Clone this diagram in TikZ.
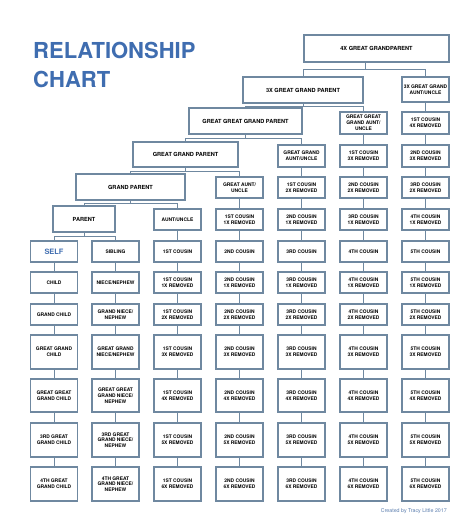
\documentclass[tikz,border=0pt]{standalone}
\usepackage{fontspec}
\setmainfont{TeX Gyre Heros}
\definecolor{boxline}{HTML}{6F88A0}
\definecolor{titleblue}{HTML}{3F6DB0}
\definecolor{creditblue}{HTML}{5A7DAE}
\begin{document}
\begin{tikzpicture}[x=1pt,y=-1pt,
  box/.style={draw=boxline, line width=1.2pt, fill=white, align=center, inner sep=0.5pt,
    minimum width=47pt, font=\fontsize{4.9}{5.8}\selectfont\bfseries, text=black},
  big/.style={font=\fontsize{5.6}{6.4}\selectfont\bfseries},
  hs/.style={minimum height=21pt},
  hm/.style={minimum height=22pt},
  ht/.style={minimum height=34pt},
  anc/.style={big, minimum height=26pt},
  conn/.style={draw=boxline, line width=0.9pt},
  titletext/.style={anchor=base west, text=titleblue, inner sep=0pt,
    font=\fontsize{22}{26}\selectfont\bfseries}
]
\useasboundingbox (0,0) rectangle (474,521);
\fill[white] (0,0) rectangle (474,521);

% title
\node[titletext] (t1) at (33,59) {RELATIONSHIP};
\node[titletext] (t2) at (33,88) {CHART};

% ancestors
\node[box, big, minimum width=145pt, minimum height=27pt] (g4) at (376.5,48.5) {4X GREAT GRANDPARENT};
\node[box, anc, minimum width=120pt] (g3) at (303,90) {3X GREAT GRAND PARENT};
\node[box, anc, minimum width=113pt] (gg) at (245.5,121) {GREAT GREAT GRAND PARENT};
\node[box, big, minimum width=105pt, minimum height=25pt] (ggp) at (185.5,154.5) {GREAT GRAND PARENT};
\node[box, anc, minimum width=109pt] (gp) at (130.5,187) {GRAND PARENT};
\node[box, anc, minimum width=62pt] (par) at (84,219) {PARENT};

% upper side boxes
\node[box, minimum height=25pt] (n1-7) at (425.5,89.5) {3X GREAT GRAND\\AUNT/UNCLE};
\node[box, hm] (n2-6) at (363.5,123) {GREAT GREAT\\GRAND AUNT/\\UNCLE};
\node[box, hm] (n2-7) at (425.5,123) {1ST COUSIN\\4X REMOVED};
\node[box, hm] (n3-5) at (301.5,156) {GREAT GRAND\\AUNT/UNCLE};
\node[box, hm] (n3-6) at (363.5,156) {1ST COUSIN\\3X REMOVED};
\node[box, hm] (n3-7) at (425.5,156) {2ND COUSIN\\3X REMOVED};
\node[box, hs] (n4-4) at (239.5,187.5) {GREAT AUNT/\\UNCLE};
\node[box, hs] (n4-5) at (301.5,187.5) {1ST COUSIN\\2X REMOVED};
\node[box, hs] (n4-6) at (363.5,187.5) {2ND COUSIN\\2X REMOVED};
\node[box, hs] (n4-7) at (425.5,187.5) {3RD COUSIN\\2X REMOVED};
\node[box, hs] (n5-3) at (177.5,219.5) {AUNT/UNCLE};
\node[box, hs] (n5-4) at (239.5,219.5) {1ST COUSIN\\1X REMOVED};
\node[box, hs] (n5-5) at (301.5,219.5) {2ND COUSIN\\1X REMOVED};
\node[box, hs] (n5-6) at (363.5,219.5) {3RD COUSIN\\1X REMOVED};
\node[box, hs] (n5-7) at (425.5,219.5) {4TH COUSIN\\1X REMOVED};

% self row
\node[box, hs, text=titleblue, font=\fontsize{7.4}{8}\selectfont\bfseries] (n6-1) at (54,251.5) {SELF};
\node[box, hs] (n6-2) at (115.5,251.5) {SIBLING};
\node[box, hs] (n6-3) at (177.5,251.5) {1ST COUSIN};
\node[box, hs] (n6-4) at (239.5,251.5) {2ND COUSIN};
\node[box, hs] (n6-5) at (301.5,251.5) {3RD COUSIN};
\node[box, hs] (n6-6) at (363.5,251.5) {4TH COUSIN};
\node[box, hs] (n6-7) at (425.5,251.5) {5TH COUSIN};

% descendants
\node[box, hs] (n7-1) at (54,282.5) {CHILD};
\node[box, hs] (n7-2) at (115.5,282.5) {NIECE/NEPHEW};
\node[box, hs] (n8-1) at (54,314.5) {GRAND CHILD};
\node[box, hs] (n8-2) at (115.5,314.5) {GRAND NIECE/\\NEPHEW};
\node[box, ht] (n9-1) at (54,352) {GREAT GRAND\\CHILD};
\node[box, ht] (n9-2) at (115.5,352) {GREAT GRAND\\NIECE/NEPHEW};
\node[box, minimum height=33pt] (n10-1) at (54,395.5) {GREAT GREAT\\GRAND CHILD};
\node[box, minimum height=33pt] (n10-2) at (115.5,395.5) {GREAT GREAT\\GRAND NIECE/\\NEPHEW};
\node[box, ht] (n11-1) at (54,440) {3RD GREAT\\GRAND CHILD};
\node[box, ht] (n11-2) at (115.5,440) {3RD GREAT\\GRAND NIECE/\\NEPHEW};
\node[box, ht] (n12-1) at (54,484) {4TH GREAT\\GRAND CHILD};
\node[box, ht] (n12-2) at (115.5,484) {4TH GREAT\\GRAND NIECE/\\NEPHEW};

% cousin grid
\foreach \r/\y/\hh/\k in {7/282.5/21/1, 8/314.5/21/2, 9/352/34/3, 10/395.5/33/4, 11/440/34/5, 12/484/34/6} {
  \foreach \c/\x/\o in {3/177.5/1ST, 4/239.5/2ND, 5/301.5/3RD, 6/363.5/4TH, 7/425.5/5TH} {
    \node[box, minimum height=\hh pt] (n\r-\c) at (\x,\y) {\o{} COUSIN\\{\k}X REMOVED};
  }
}

% vertical column connectors
\foreach \c/\s in {1/6,2/6,3/5,4/4,5/3,6/2,7/1} {
  \foreach \r [evaluate=\r as \rn using int(\r+1)] in {\s,...,11} {
    \draw[conn] (n\r-\c.south) -- (n\rn-\c.north);
  }
}

% tree branches
\draw[conn] ([xshift=-11.5pt]g4.south) -- ++(0,7) -| (g3.north);
\draw[conn] ([xshift=-11.5pt]g4.south) -- ++(0,7) -| (n1-7.north);
\draw[conn] (g3.south) -- ++(0,3) -| (gg.north);
\draw[conn] (g3.south) -- ++(0,3) -| (n2-6.north);
\draw[conn] (gg.south) -- ++(0,4) -| (ggp.north);
\draw[conn] (gg.south) -- ++(0,4) -| (n3-5.north);
\draw[conn] (ggp.south) -- ++(0,4) -| (gp.north);
\draw[conn] (ggp.south) -- ++(0,4) -| (n4-4.north);
\draw[conn] (gp.south) -- ++(0,3) -| (par.north);
\draw[conn] (gp.south) -- ++(0,3) -| (n5-3.north);
\draw[conn] (par.south) -- ++(0,3.5) -| (n6-1.north);
\draw[conn] (par.south) -- ++(0,3.5) -| (n6-2.north);

% credit
\node[anchor=base east, text=creditblue, inner sep=0pt, font=\fontsize{5.3}{6}\selectfont] (cr) at (447,512) {Created by Tracy Little 2017};
\end{tikzpicture}
\end{document}
